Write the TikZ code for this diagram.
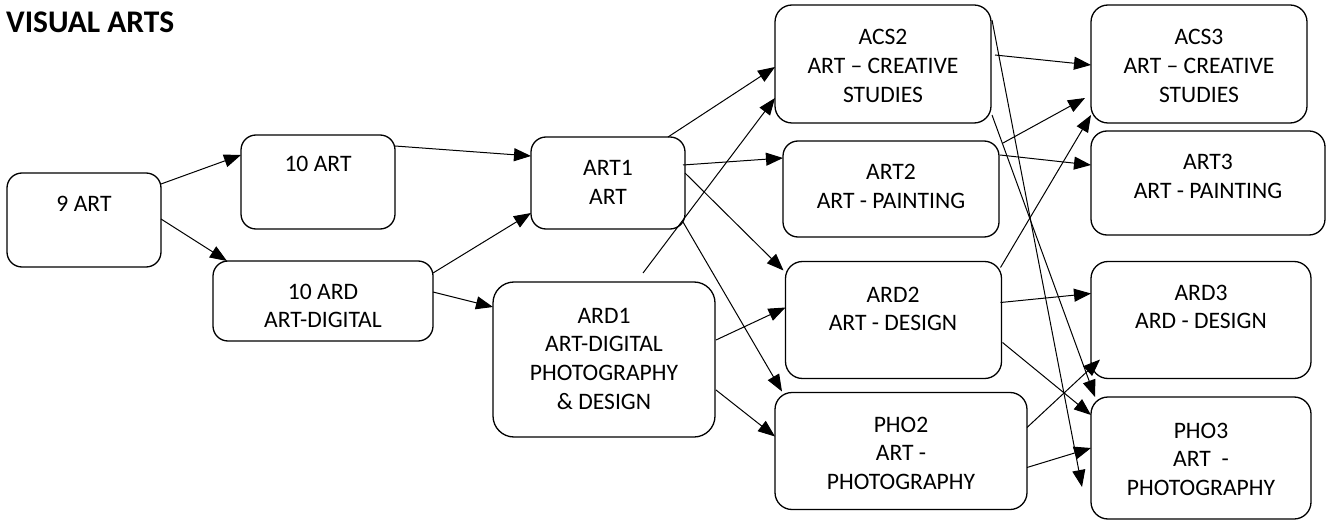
\documentclass[tikz,border=0pt]{standalone}
\usepackage{fontspec}
\setmainfont{Carlito}
\usetikzlibrary{arrows.meta,calc}
\newcommand\mylines[1]{\begin{tabular}[t]{@{}c@{}}#1\end{tabular}}
\begin{document}
\begin{tikzpicture}[x=1bp,y=-1bp,
 box/.style={draw, line width=1.3bp, rounded corners=15bp, inner sep=0pt, outer sep=0pt},
 lbl/.style={anchor=base, inner sep=0pt, font=\fontsize{23.6bp}{28.7bp}\selectfont},
 arr/.style={line width=1bp, -{Triangle[length=17bp,width=13bp]}},
]
\useasboundingbox (0,0) rectangle (1328,520);
\node[anchor=base west, inner sep=0pt, font=\fontsize{31.5bp}{36bp}\selectfont\bfseries] (title) at (6,33) {VISUAL ARTS};

% boxes
\node[box, minimum width=154bp, minimum height=94bp] (nine) at (84,220) {};
\node[box, minimum width=154bp, minimum height=94bp] (tenart) at (318,182) {};
\node[box, minimum width=220bp, minimum height=80bp] (tenard) at (323,301) {};
\node[box, minimum width=154bp, minimum height=92bp] (art1) at (608,183) {};
\node[box, minimum width=222bp, minimum height=155bp, rounded corners=21bp] (ard1) at (604,359.5) {};
\node[box, minimum width=216bp, minimum height=118bp, rounded corners=17bp] (acs2) at (883,64) {};
\node[box, minimum width=216bp, minimum height=96bp] (art2) at (891,189) {};
\node[box, minimum width=216bp, minimum height=117bp, rounded corners=17bp] (ard2) at (893.5,320) {};
\node[box, minimum width=252bp, minimum height=117bp, rounded corners=17bp] (pho2) at (901,451) {};
\node[box, minimum width=216bp, minimum height=118bp, rounded corners=17bp] (acs3) at (1199,64) {};
\node[box, minimum width=234bp, minimum height=104bp, rounded corners=16bp] (art3) at (1208,183) {};
\node[box, minimum width=220bp, minimum height=117bp, rounded corners=17bp] (ard3) at (1201,320) {};
\node[box, minimum width=220bp, minimum height=122bp, rounded corners=17bp] (pho3) at (1201,458) {};

% labels
\node[lbl] (t-nine) at (84,212) {\mylines{9 ART}};
\node[lbl] (t-tenart) at (318,172) {\mylines{10 ART}};
\node[lbl] (t-tenard) at (323,299) {\mylines{10 ARD\\ART-DIGITAL}};
\node[lbl] (t-art1) at (608,176) {\mylines{ART1\\ART}};
\node[lbl] (t-ard1) at (604,323) {\mylines{ARD1\\ART-DIGITAL\\PHOTOGRAPHY\\\& DESIGN}};
\node[lbl] (t-acs2) at (883,45) {\mylines{ACS2\\ART -- CREATIVE\\STUDIES}};
\node[lbl] (t-art2) at (891,180) {\mylines{ART2\\ART - PAINTING}};
\node[lbl] (t-ard2) at (893,302) {\mylines{ARD2\\ART - DESIGN}};
\node[lbl] (t-pho2) at (901,432) {\mylines{PHO2\\ART -\\PHOTOGRAPHY}};
\node[lbl] (t-acs3) at (1199,45) {\mylines{ACS3\\ART -- CREATIVE\\STUDIES}};
\node[lbl] (t-art3) at (1208,170) {\mylines{ART3\\ART - PAINTING}};
\node[lbl] (t-ard3) at (1201,300) {\mylines{ARD3\\ARD - DESIGN}};
\node[lbl] (t-pho3) at (1201,438) {\mylines{PHO3\\ART\ \ -\\PHOTOGRAPHY}};

% connectors
\draw[arr] ($(nine.north east)+(0,11)$) -- ($(tenart.north west)+(0,20)$);
\draw[arr] ($(nine.north east)+(0,46)$) -- ($(tenard.north west)+(14,0)$);
\draw[arr] ($(tenart.north east)+(0,11)$) -- ($(art1.north west)+(0,19)$);
\draw[arr] ($(tenard.north east)+(0,12)$) -- ($(art1.north west)+(0,76)$);
\draw[arr] ($(tenard.north east)+(0,31)$) -- ($(ard1.north west)+(0,25)$);
\draw[arr] ($(art1.north east)+(-17,0)$) -- ($(acs2.north west)+(0,62)$);
\draw[arr] ($(ard1.north west)+(150,-9)$) -- ($(acs2.north west)+(0,93)$);
\draw[arr] ($(art1.north east)+(-2,28)$) -- ($(art2.north west)+(0,17)$);
\draw[arr] ($(art1.north east)+(0,36)$) -- ($(ard2.north west)+(-2,9)$);
\draw[arr] ($(art1.south east)+(-2,-7)$) -- ($(pho2.north west)+(7,-1)$);
\draw[arr] ($(ard1.north east)+(1,58)$) -- ($(ard2.north west)+(0,46)$);
\draw[arr] ($(ard1.north east)+(1,108)$) -- ($(pho2.north west)+(0,44)$);
\draw[arr] ($(acs2.north east)+(4,50)$) -- ($(acs3.north west)+(0,60)$);
\draw[arr] ($(art2.north east)+(4,2)$) -- ($(acs3.north west)+(-6,93)$);
\draw[arr] ($(art2.north east)+(1,14)$) -- ($(art3.north west)+(0,34)$);
\draw[arr] ($(ard2.north east)+(-1,6)$) -- ($(acs3.south west)+(0,-8)$);
\draw[arr] ($(acs2.north east)+(1,15)$) -- ($(pho3.north west)+(-9,90)$);
\draw[arr] ($(acs2.north east)+(1,110)$) -- ($(pho3.north west)+(4,0)$);
\draw[arr] ($(ard2.north east)+(-1,41)$) -- ($(ard3.north west)+(0,32)$);
\draw[arr] ($(ard2.north east)+(1,81)$) -- ($(pho3.north west)+(0,18)$);
\draw[arr] ($(pho2.north east)+(0,35)$) -- ($(ard3.south west)+(9,-19)$);
\draw[arr] ($(pho2.north east)+(0,75)$) -- ($(pho3.north west)+(0,51)$);
\end{tikzpicture}
\end{document}
